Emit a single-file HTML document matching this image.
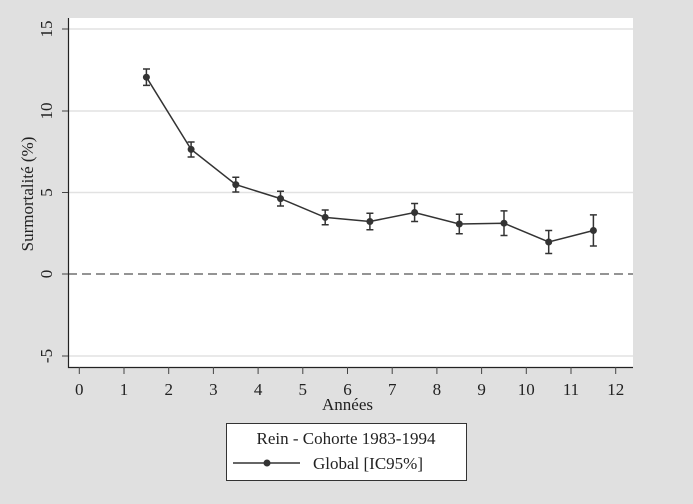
<!DOCTYPE html><html><head><style>body{margin:0;background:#e0e0e0}svg{display:block}text{font-family:"Liberation Serif",serif;fill:#222}</style></head><body>
<svg width="693" height="504" viewBox="0 0 693 504">
<rect width="693" height="504" fill="#e0e0e0"/>
<rect x="68" y="18" width="565" height="349" fill="#fff"/>
<g stroke="#e2e2e2" stroke-width="1.5"><line x1="68" x2="633" y1="29" y2="29"/><line x1="68" x2="633" y1="111" y2="111"/><line x1="68" x2="633" y1="192.5" y2="192.5"/><line x1="68" x2="633" y1="356" y2="356"/></g>
<line x1="68" x2="633" y1="274" y2="274" stroke="#555" stroke-width="1.3" stroke-dasharray="9,5"/>
<path d="M68.5 18V367.5H633" fill="none" stroke="#222" stroke-width="1.2"/>
<g stroke="#444"><line x1="62" x2="68" y1="29" y2="29"/><line x1="62" x2="68" y1="111" y2="111"/><line x1="62" x2="68" y1="192.5" y2="192.5"/><line x1="62" x2="68" y1="274" y2="274"/><line x1="62" x2="68" y1="356" y2="356"/></g>
<g font-size="17" text-anchor="middle">
<text transform="translate(52 29) rotate(-90)">15</text><text transform="translate(52 111) rotate(-90)">10</text><text transform="translate(52 192.5) rotate(-90)">5</text><text transform="translate(52 274) rotate(-90)">0</text><text transform="translate(52 356) rotate(-90)">-5</text>
<text transform="translate(33 194) rotate(-90)">Surmortalité (%)</text>
</g>
<g font-size="17" text-anchor="middle">
<text x="79.3" y="395">0</text><text x="124" y="395">1</text><text x="168.7" y="395">2</text><text x="213.4" y="395">3</text><text x="258.1" y="395">4</text><text x="302.8" y="395">5</text><text x="347.5" y="395">6</text><text x="392.2" y="395">7</text><text x="436.9" y="395">8</text><text x="481.6" y="395">9</text><text x="526.3" y="395">10</text><text x="571" y="395">11</text><text x="615.7" y="395">12</text>
<text x="347.5" y="410">Années</text>
</g>
<g stroke="#444"><path d="M79.3 367v7M124 367v7M168.7 367v7M213.4 367v7M258.1 367v7M302.8 367v7M347.5 367v7M392.2 367v7M436.9 367v7M481.6 367v7M526.3 367v7M571 367v7M615.7 367v7"/></g>
<g stroke="#333" stroke-width="1.5" fill="none">
<polyline points="146.4,77.2 191.1,149.4 235.8,184.6 280.5,198.6 325.2,217.4 369.9,221.5 414.6,212.5 459.3,224 504,223.2 548.7,242 593.4,230.5"/>
<path d="M146.4 69V85.4M143 69h7M143 85.4h7 M191.1 142V157M187.6 142h7M187.6 157h7 M235.8 177.2V192M232.3 177.2h7M232.3 192h7 M280.5 191.2V206M277 191.2h7M277 206h7 M325.2 210V224.8M321.7 210h7M321.7 224.8h7 M369.9 213.3V229.7M366.4 213.3h7M366.4 229.7h7 M414.6 203.5V221.5M411.1 203.5h7M411.1 221.5h7 M459.3 214.2V233.8M455.8 214.2h7M455.8 233.8h7 M504 210.9V235.5M500.5 210.9h7M500.5 235.5h7 M548.7 230.5V253.5M545.2 230.5h7M545.2 253.5h7 M593.4 214.9V246M589.9 214.9h7M589.9 246h7"/>
</g>
<g fill="#333"><circle cx="146.4" cy="77.2" r="3.5"/><circle cx="191.1" cy="149.4" r="3.5"/><circle cx="235.8" cy="184.6" r="3.5"/><circle cx="280.5" cy="198.6" r="3.5"/><circle cx="325.2" cy="217.4" r="3.5"/><circle cx="369.9" cy="221.5" r="3.5"/><circle cx="414.6" cy="212.5" r="3.5"/><circle cx="459.3" cy="224" r="3.5"/><circle cx="504" cy="223.2" r="3.5"/><circle cx="548.7" cy="242" r="3.5"/><circle cx="593.4" cy="230.5" r="3.5"/></g>
<rect x="226.5" y="423.5" width="240" height="57" fill="#fff" stroke="#333"/>
<text x="346" y="444" font-size="17" text-anchor="middle">Rein - Cohorte 1983-1994</text>
<line x1="233" x2="300" y1="463" y2="463" stroke="#333" stroke-width="1.5"/><circle cx="267" cy="463" r="3.5" fill="#333"/>
<text x="313" y="469" font-size="17">Global [IC95%]</text>
</svg></body></html>
